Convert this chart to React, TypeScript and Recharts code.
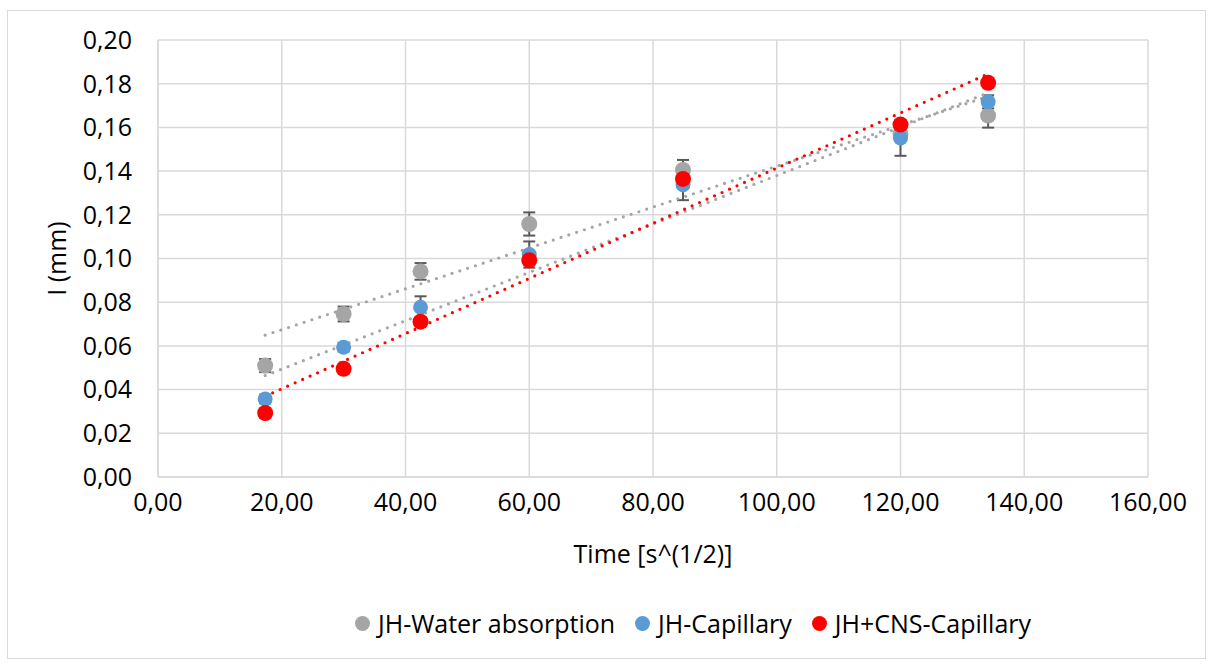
import React from 'react';
import {
  ScatterChart,
  Scatter,
  XAxis,
  YAxis,
  CartesianGrid,
  ErrorBar,
  ReferenceLine,
  Label,
} from 'recharts';

// ---- data ----
const timeSqrt = [17.32, 30, 42.43, 60, 84.85, 120, 134.16];
const waterAbsorption = [0.051, 0.0746, 0.0941, 0.1158, 0.1405, 0.157, 0.1654];
const waterAbsorptionErr = [0.003, 0.0034, 0.0038, 0.0053, 0.0046, 0.003, 0.0055];
const capillary = [0.0357, 0.0594, 0.0777, 0.1018, 0.1338, 0.1552, 0.1717];
const capillaryErr = [0.002, 0.002, 0.005, 0.006, 0.0071, 0.0082, 0.003];
const cnsCapillary = [0.0293, 0.0495, 0.0711, 0.0992, 0.1364, 0.1613, 0.1804];
const cnsCapillaryErr = [0.002, 0.002, 0.002, 0.002, 0.002, 0.002, 0.002];

// linear trendline end points (x range and y values at both ends)
const trendX = [17.32, 134.16];
const waterTrend = [0.0649, 0.1742];
const capillaryTrend = [0.0464, 0.1758];
const cnsTrend = [0.037, 0.1845];

const xTicks = [0, 20, 40, 60, 80, 100, 120, 140, 160];
const yTicks = [0, 0.02, 0.04, 0.06, 0.08, 0.1, 0.12, 0.14, 0.16, 0.18, 0.2];

const seriesNames = ['JH-Water absorption', 'JH-Capillary', 'JH+CNS-Capillary'];
const seriesColors = ['#a5a5a5', '#5b9bd5', '#ff0000'];
const trendColors = ['#a5a5a5', '#a5a5a5', '#ff0000'];

const build = (ys: number[], errs: number[]) =>
  timeSqrt.map((x, i) => ({ x, y: ys[i], err: errs[i] }));

const seriesData = [
  build(waterAbsorption, waterAbsorptionErr),
  build(capillary, capillaryErr),
  build(cnsCapillary, cnsCapillaryErr),
];
const trends = [waterTrend, capillaryTrend, cnsTrend];

const FONT = '"Open Sans", sans-serif';
const fmt = (v: number) => v.toFixed(2).replace('.', ',');

const makeShape = (color: string, r: number) => (props: any) =>
  <circle cx={props.cx} cy={props.cy} r={r} fill={color} />;

export default function App() {
  return (
    <div style={{ position: 'absolute', left: 0, top: 0, width: 1212, height: 664, background: '#fff', fontFamily: FONT }}>
      <div
        style={{
          position: 'absolute',
          left: 7,
          top: 10,
          width: 1197,
          height: 647,
          border: '1px solid #d9d9d9',
        }}
      />
      <ScatterChart width={1212} height={664} margin={{ top: 40, right: 64, left: 0, bottom: 0 }}>
        <CartesianGrid stroke="#d9d9d9" strokeWidth={1.5} />
        <XAxis
          type="number"
          dataKey="x"
          domain={[0, 160]}
          ticks={xTicks}
          tickFormatter={fmt}
          height={187}
          axisLine={{ stroke: '#d9d9d9', strokeWidth: 1.5 }}
          tickLine={false}
          tickSize={0}
          tickMargin={16}
          tick={{ fontSize: 25, fill: '#000', fontFamily: FONT }}
          interval={0}
        >
          <Label
            content={(p: any) => {
              const vb = p.viewBox;
              return (
                <text
                  x={vb.x + vb.width / 2}
                  y={vb.y + 86}
                  textAnchor="middle"
                  fontSize={25}
                  fontFamily={FONT}
                  fill="#000"
                >
                  Time [s^(1/2)]
                </text>
              );
            }}
          />
        </XAxis>
        <YAxis
          type="number"
          dataKey="y"
          domain={[0, 0.2]}
          ticks={yTicks}
          tickFormatter={fmt}
          width={158}
          axisLine={{ stroke: '#d9d9d9', strokeWidth: 1.5 }}
          tickLine={false}
          tickSize={0}
          tickMargin={26}
          tick={{ fontSize: 25, fill: '#000', fontFamily: FONT }}
          interval={0}
        >
          <Label
            content={(p: any) => {
              const vb = p.viewBox;
              const cx = vb.x + 56;
              const cy = vb.y + vb.height / 2;
              return (
                <text
                  x={cx}
                  y={cy}
                  transform={`rotate(-90, ${cx}, ${cy})`}
                  textAnchor="middle"
                  dominantBaseline="central"
                  fontSize={25}
                  fontFamily={FONT}
                  fill="#000"
                >
                  I (mm)
                </text>
              );
            }}
          />
        </YAxis>
        {seriesData.map((d, i) => (
          <Scatter
            key={seriesNames[i]}
            name={seriesNames[i]}
            data={d}
            isAnimationActive={false}
            shape={makeShape(seriesColors[i], i === 1 ? 7.5 : 8)}
          >
            <ErrorBar dataKey="err" direction="y" width={6} stroke="#595959" strokeWidth={2} />
          </Scatter>
        ))}
        {trends.map((t, i) => (
          <ReferenceLine
            key={'trend' + i}
            segment={[
              { x: trendX[0], y: t[0] },
              { x: trendX[1], y: t[1] },
            ]}
            stroke={trendColors[i]}
            strokeWidth={3.2}
            strokeDasharray="0 8.2"
            strokeLinecap="round"
          />
        ))}
      </ScatterChart>
      <div
        style={{
          position: 'absolute',
          left: 355,
          top: 606,
          display: 'flex',
          alignItems: 'center',
          fontSize: 25,
          fontFamily: FONT,
          color: '#000',
          whiteSpace: 'nowrap',
        }}
      >
        {seriesNames.map((n, i) => (
          <div key={n} style={{ display: 'flex', alignItems: 'center', marginRight: 20 }}>
            <span
              style={{
                display: 'inline-block',
                width: 15,
                height: 15,
                borderRadius: '50%',
                background: seriesColors[i],
                marginRight: 8,
              }}
            />
            <span>{n}</span>
          </div>
        ))}
      </div>
    </div>
  );
}
